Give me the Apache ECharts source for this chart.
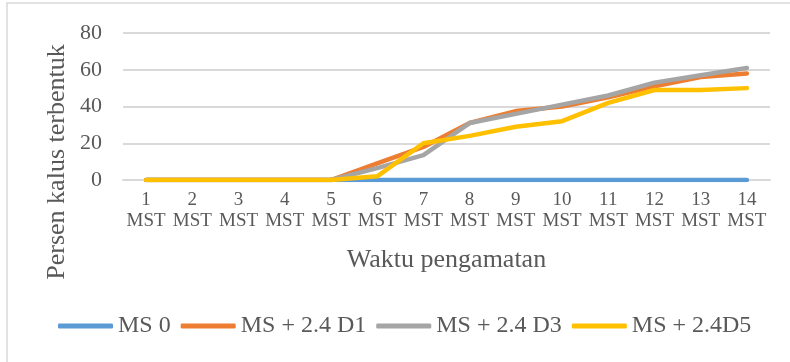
<!DOCTYPE html>
<html>
<head>
<meta charset="utf-8">
<script src="https://cdn.jsdelivr.net/npm/echarts@6/dist/echarts.min.js"></script>
<style>
  html, body { margin: 0; padding: 0; background: #fff; }
  #chart { width: 790px; height: 362px; }
</style>
</head>
<body>
<div id="chart"></div>
<script>
// ── Данные графика ─────────────────────────────────────────────
var categories = ['1\nMST', '2\nMST', '3\nMST', '4\nMST', '5\nMST', '6\nMST', '7\nMST',
  '8\nMST', '9\nMST', '10\nMST', '11\nMST', '12\nMST', '13\nMST', '14\nMST'];
var ms0   = [0, 0, 0, 0, 0, 0, 0, 0, 0, 0, 0, 0, 0, 0];
var msD1  = [0, 0, 0, 0, 0, 9, 18, 31, 37.5, 40, 45, 51, 56, 58];
var msD3  = [0, 0, 0, 0, 0, 6.5, 13.5, 31, 36, 41, 46, 53, 57, 61];
var msD5  = [0, 0, 0, 0, 0, 2, 20, 24, 29, 32, 42, 49, 49, 50];
var seriesNames = ['MS 0', 'MS + 2.4 D1', 'MS + 2.4 D3', 'MS + 2.4D5'];
var seriesColors = ['#5B9BD5', '#ED7D31', '#A5A5A5', '#FFC000'];

var FONT = '"Liberation Serif", "Times New Roman", serif';
var TXT = '#595959';

var chart = echarts.init(document.getElementById('chart'));

function line(name, data, color) {
  return {
    name: name,
    type: 'line',
    data: data,
    symbol: 'none',
    color: color,
    lineStyle: { width: 4.5, color: color, cap: 'round', join: 'round' }
  };
}

chart.setOption({
  animation: false,
  textStyle: { fontFamily: FONT },
  graphic: [
    {
      type: 'rect',
      shape: { x: 7, y: 3, width: 800, height: 400 },
      style: { fill: 'none', stroke: '#d9d9d9', lineWidth: 1.5 },
      silent: true
    },
    {
      type: 'text',
      x: 57,
      y: 162,
      rotation: Math.PI / 2,
      style: {
        text: 'Persen kalus terbentuk',
        font: '26px ' + FONT,
        fill: TXT,
        align: 'center',
        verticalAlign: 'middle'
      }
    }
  ],
  grid: { left: 123, right: 20, top: 33, bottom: 182, containLabel: false },
  legend: {
    data: seriesNames,
    top: 314,
    left: 58,
    padding: 0,
    icon: 'roundRect',
    itemWidth: 55,
    itemHeight: 5,
    itemGap: 10,
    textStyle: { fontFamily: FONT, fontSize: 24, color: TXT }
  },
  xAxis: {
    type: 'category',
    data: categories,
    boundaryGap: true,
    name: 'Waktu pengamatan',
    nameLocation: 'middle',
    nameGap: 67,
    nameTextStyle: { fontFamily: FONT, fontSize: 26, color: TXT },
    axisLine: { show: true, lineStyle: { color: '#d9d9d9', width: 2 } },
    axisTick: { show: false },
    axisLabel: {
      fontFamily: FONT,
      fontSize: 19,
      lineHeight: 21,
      color: TXT,
      margin: 10,
      interval: 0
    }
  },
  yAxis: {
    type: 'value',
    min: 0,
    max: 80,
    interval: 20,
    axisLine: { show: false },
    axisTick: { show: false },
    splitLine: { lineStyle: { color: '#d9d9d9', width: 2 } },
    axisLabel: { fontFamily: FONT, fontSize: 22, color: TXT, margin: 21 }
  },
  series: [
    line(seriesNames[0], ms0, seriesColors[0]),
    line(seriesNames[1], msD1, seriesColors[1]),
    line(seriesNames[2], msD3, seriesColors[2]),
    line(seriesNames[3], msD5, seriesColors[3])
  ]
});
</script>
</body>
</html>
